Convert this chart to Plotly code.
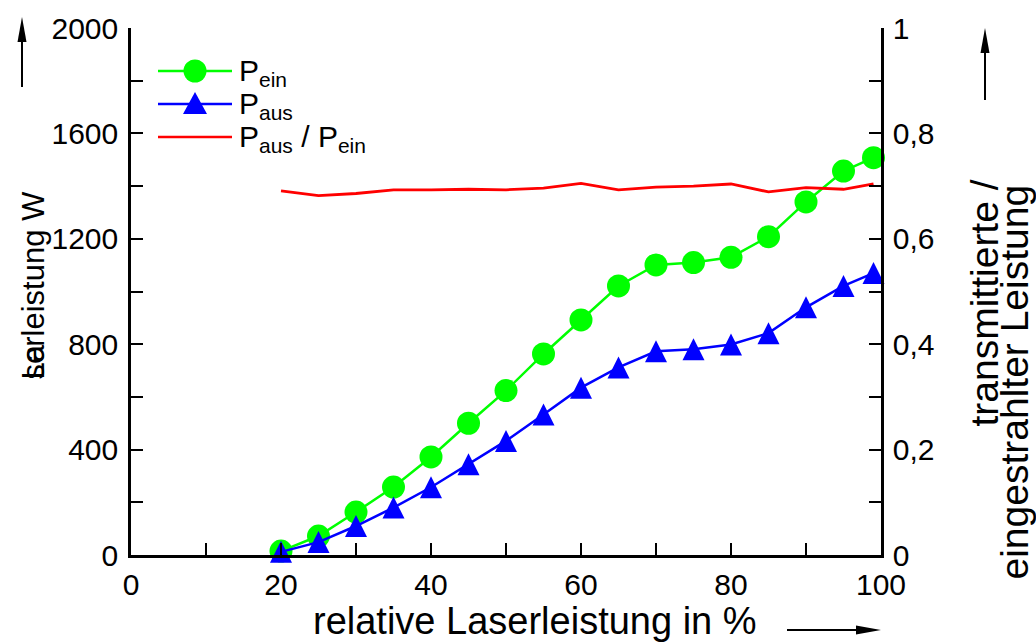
import plotly.graph_objects as go

# ---- data ----
rel_power = [20, 25, 30, 35, 40, 45, 50, 55, 60, 65, 70, 75, 80, 85, 90, 95, 99]
p_ein = [15, 72, 163, 258, 372, 500, 624, 763, 892, 1021, 1101, 1110, 1130, 1208, 1340, 1457, 1508]
p_aus = [12, 49, 110, 180, 257, 344, 433, 533, 635, 712, 773, 781, 799, 842, 940, 1021, 1070]
ratio = [0.691, 0.682, 0.686, 0.693, 0.693, 0.694, 0.693, 0.696, 0.705, 0.693,
         0.698, 0.700, 0.704, 0.689, 0.697, 0.694, 0.704]

x_ticks = [0, 20, 40, 60, 80, 100]
y_left_ticks = [0, 400, 800, 1200, 1600, 2000]
y_right_ticks = [0, 0.2, 0.4, 0.6, 0.8, 1]

W, H = 1036, 644
L, R, T, B = 131, 155, 28, 89
PW, PH = W - L - R, H - T - B

FONT = "Liberation Sans, Arial, sans-serif"
GREEN, BLUE, RED = "#00FF00", "#0000FF", "#FF0000"


def px(xp):
    return (xp - L) / PW


def py(yp):
    return (H - B - yp) / PH


fig = go.Figure()
fig.add_trace(go.Scatter(
    x=rel_power, y=p_ein, mode="lines+markers", name="P<sub>ein</sub>",
    line=dict(color=GREEN, width=2.5),
    marker=dict(symbol="circle", size=23, color=GREEN, line=dict(width=0)),
    cliponaxis=False, showlegend=False))
fig.add_trace(go.Scatter(
    x=rel_power, y=p_aus, mode="lines+markers", name="P<sub>aus</sub>",
    line=dict(color=BLUE, width=2.5),
    marker=dict(symbol="arrow-down", angle=180, standoff=11, size=22, color=BLUE,
                line=dict(width=0)),
    cliponaxis=False, showlegend=False))
fig.add_trace(go.Scatter(
    x=rel_power, y=ratio, mode="lines", name="P<sub>aus</sub> / P<sub>ein</sub>",
    line=dict(color=RED, width=2.8), yaxis="y2", cliponaxis=False, showlegend=False))

axis_common = dict(
    showline=True, linecolor="black", linewidth=2.5, mirror=False,
    ticks="inside", ticklen=12, tickwidth=2, tickcolor="black",
    showgrid=False, zeroline=False,
    tickfont=dict(family=FONT, size=30, color="black"),
)

fig.update_layout(
    width=W, height=H, autosize=False,
    margin=dict(l=L, r=R, t=T, b=B, pad=0),
    paper_bgcolor="white", plot_bgcolor="white",
    separators=",.",
    showlegend=False,
    xaxis=dict(range=[0, 100], tickvals=x_ticks, ticklabelstandoff=1,
               minor=dict(dtick=10, ticks="inside", ticklen=12, tickwidth=2, tickcolor="black"),
               **axis_common),
    yaxis=dict(range=[0, 2000], tickvals=y_left_ticks, ticklabelstandoff=4,
               minor=dict(dtick=200, ticks="inside", ticklen=12, tickwidth=2, tickcolor="black"),
               **axis_common),
    yaxis2=dict(range=[0, 1], tickvals=y_right_ticks, overlaying="y", side="right",
                ticklabelstandoff=3,
                minor=dict(dtick=0.1, ticks="inside", ticklen=12, tickwidth=2, tickcolor="black"),
                **axis_common),
)

shapes = []
annotations = []

# ---- manual legend ----
rows = [(71, GREEN, "circle", "P<sub>ein</sub>"),
        (104, BLUE, "triangle", "P<sub>aus</sub>"),
        (137, RED, None, "P<sub>aus</sub> / P<sub>ein</sub>")]
for yrow, col, sym, label in rows:
    shapes.append(dict(type="line", xref="paper", yref="paper",
                       x0=px(158), x1=px(232), y0=py(yrow), y1=py(yrow),
                       line=dict(color=col, width=2.5)))
    if sym == "circle":
        shapes.append(dict(type="circle", xref="paper", yref="paper",
                           x0=px(195 - 11.5), x1=px(195 + 11.5),
                           y0=py(yrow + 11.5), y1=py(yrow - 11.5),
                           fillcolor=col, line=dict(width=0)))
    elif sym == "triangle":
        path = "M {a},{b} L {c},{d} L {e},{f} Z".format(
            a=px(195), b=py(yrow - 12), c=px(183), d=py(yrow + 10), e=px(207), f=py(yrow + 10))
        shapes.append(dict(type="path", xref="paper", yref="paper", path=path,
                           fillcolor=col, line=dict(width=0)))
    annotations.append(dict(xref="paper", yref="paper", x=px(237), y=py(yrow + 1),
                            xanchor="left", yanchor="middle", showarrow=False,
                            text=label, font=dict(family=FONT, size=30, color="black")))

# ---- axis titles ----
annotations.append(dict(xref="paper", yref="paper", x=px(535), y=py(644),
                        xanchor="center", yanchor="bottom", showarrow=False,
                        text="relative Laserleistung in %",
                        font=dict(family=FONT, size=38, color="black")))
for t in ["serleistung W", "La"]:
    annotations.append(dict(xref="paper", yref="paper", x=px(33), y=py(382),
                            xanchor="center", yanchor="bottom", showarrow=False, textangle=-90,
                            text=t, font=dict(family=FONT, size=31, color="black")))
annotations.append(dict(xref="paper", yref="paper", x=px(984), y=py(178),
                        xanchor="center", yanchor="top", showarrow=False, textangle=-90,
                        text="transmittierte /", font=dict(family=FONT, size=39, color="black")))
annotations.append(dict(xref="paper", yref="paper", x=px(1014), y=py(183),
                        xanchor="center", yanchor="top", showarrow=False, textangle=-90,
                        text="eingestrahlter Leistung", font=dict(family=FONT, size=39, color="black")))

# ---- arrows ----
def arrow_up(xc, ytip, ytail):
    shapes.append(dict(type="line", xref="paper", yref="paper",
                       x0=px(xc), x1=px(xc), y0=py(ytail), y1=py(ytip + 20),
                       line=dict(color="black", width=2)))
    shapes.append(dict(type="path", xref="paper", yref="paper",
                       path="M {a},{b} L {c},{d} L {e},{f} Z".format(
                           a=px(xc), b=py(ytip), c=px(xc - 4.5), d=py(ytip + 25),
                           e=px(xc + 4.5), f=py(ytip + 25)),
                       fillcolor="black", line=dict(width=0)))


arrow_up(22, 17, 87)
arrow_up(985, 28, 100)
shapes.append(dict(type="line", xref="paper", yref="paper",
                   x0=px(787), x1=px(862), y0=py(630), y1=py(630),
                   line=dict(color="black", width=2)))
shapes.append(dict(type="path", xref="paper", yref="paper",
                   path="M {a},{b} L {c},{d} L {e},{f} Z".format(
                       a=px(881), b=py(630), c=px(856), d=py(625.5), e=px(856), f=py(634.5)),
                   fillcolor="black", line=dict(width=0)))

fig.update_layout(shapes=shapes, annotations=annotations)
fig.write_html("out.html")
